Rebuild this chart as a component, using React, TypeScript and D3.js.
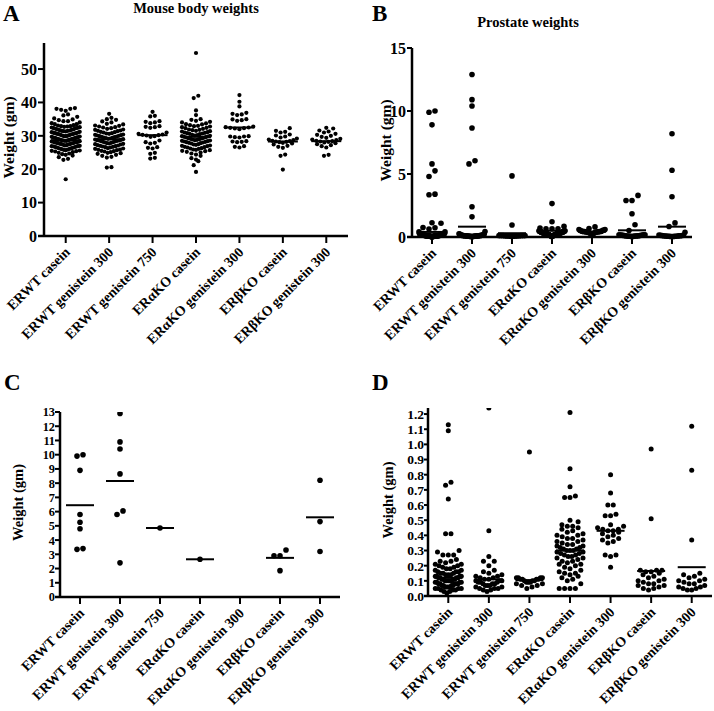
import React from "react";
import * as d3 from "d3";

const groups = [
  "ERWT casein",
  "ERWT genistein 300",
  "ERWT genistein 750",
  "ERαKO casein",
  "ERαKO genistein 300",
  "ERβKO casein",
  "ERβKO genistein 300",
];

// A: mouse body weights (gm)
const bodyWeights = [
  [38.3, 38.1, 38.1, 37.8, 37.5, 36.4, 36.1, 35.7, 35.2, 34.9, 34.7, 34.4, 34.4, 34.0, 33.8, 33.5, 33.5, 33.1, 32.9, 32.8,
   32.5, 32.3, 32.3, 32.0, 31.8, 31.7, 31.5, 31.4, 31.1, 31.0, 30.8, 30.8, 30.5, 30.4, 30.2, 30.0, 29.9, 29.9, 29.6, 29.5,
   29.3, 29.2, 29.0, 29.0, 28.8, 28.7, 28.7, 28.5, 28.4, 28.2, 28.1, 28.0, 27.8, 27.8, 27.6, 27.5, 27.3, 27.2, 27.1, 26.9,
   26.8, 26.6, 26.5, 26.3, 26.1, 26.0, 25.8, 25.7, 25.5, 25.3, 25.1, 24.9, 24.7, 24.5, 24.3, 24.1, 23.6, 23.1, 22.8, 17.0,
   33.2, 32.9, 32.6, 32.4, 32.1, 31.9, 31.6, 31.3, 31.2, 30.9, 30.7, 30.6, 30.3, 30.1, 29.8, 29.7, 29.4, 29.1, 28.9, 28.6,
   28.3, 28.2, 27.9, 27.7, 27.4, 27.0, 26.7, 26.4, 26.2, 25.9, 25.6, 25.4, 28.5, 29.5, 30.5, 27.5, 26.9, 31.5, 32.7, 28.0],
  [36.6, 35.4, 35.0, 34.8, 34.3, 34.0, 33.6, 33.4, 33.1, 32.8, 32.6, 32.3, 32.1, 31.9, 31.6, 31.4, 31.2, 31.0, 30.8, 30.6,
   30.4, 30.2, 30.1, 29.9, 29.7, 29.5, 29.4, 29.2, 29.0, 28.9, 28.7, 28.6, 28.4, 28.2, 28.1, 27.9, 27.7, 27.6, 27.4, 27.2,
   27.0, 26.8, 26.7, 26.5, 26.3, 26.1, 25.9, 25.7, 25.5, 25.3, 25.1, 24.9, 24.6, 24.3, 24.0, 23.7, 23.5, 20.6, 20.5,
   33.0, 32.5, 31.8, 31.5, 31.1, 30.7, 30.3, 30.0, 29.6, 29.3, 29.1, 28.8, 28.5, 28.3, 28.0, 27.8, 27.5, 27.1, 26.9, 26.6,
   26.2, 25.8, 25.4, 24.8, 29.8, 28.6],
  [37.2, 36.0, 35.8, 34.4, 34.2, 34.0, 33.8, 32.9, 32.7, 32.6, 32.4, 31.0, 30.6, 30.4, 30.3, 30.2, 30.1, 29.9, 29.7, 28.6,
   28.1, 27.9, 27.7, 26.6, 26.4, 26.2, 24.9, 24.6, 23.4, 23.2],
  [54.8, 42.0, 41.3, 37.6, 36.2, 35.0, 34.8, 34.5, 34.2, 34.0, 33.7, 33.5, 33.2, 33.0, 32.8, 32.6, 32.3, 32.1, 31.9, 31.7,
   31.5, 31.3, 31.1, 30.9, 30.7, 30.5, 30.3, 30.1, 30.0, 29.8, 29.6, 29.4, 29.3, 29.1, 28.9, 28.7, 28.6, 28.4, 28.2, 28.0,
   27.9, 27.7, 27.5, 27.3, 27.1, 26.9, 26.7, 26.5, 26.3, 26.1, 25.9, 25.7, 25.5, 25.2, 25.0, 24.7, 24.4, 24.0, 23.3, 22.9,
   22.4, 21.2, 19.2, 33.4, 32.9, 32.4, 31.8, 31.4, 31.0, 30.6, 30.2, 29.9, 29.5, 29.2, 29.0, 28.8, 28.5, 28.1, 27.8, 27.4,
   27.0, 26.6, 26.2, 25.8, 25.4, 30.8, 29.7, 28.3],
  [42.2, 40.2, 38.8, 36.9, 36.6, 36.4, 36.2, 35.0, 34.9, 34.7, 34.5, 32.8, 32.6, 32.5, 32.4, 32.3, 32.2, 32.0, 29.9, 29.8,
   29.8, 29.6, 29.5, 28.4, 28.3, 28.2, 28.1, 26.9, 26.7, 26.5],
  [32.3, 31.5, 31.2, 31.0, 30.4, 30.1, 29.8, 29.5, 29.2, 28.9, 28.7, 28.5, 28.4, 28.3, 28.2, 28.1, 27.9, 27.7, 27.4, 27.0,
   26.7, 26.4, 24.4, 24.0, 19.9],
  [32.4, 32.2, 31.6, 31.3, 31.0, 30.6, 30.3, 30.0, 29.7, 29.4, 29.1, 28.9, 28.7, 28.5, 28.4, 28.3, 28.2, 28.0, 27.8, 27.5,
   27.2, 26.9, 26.5, 24.3, 24.0],
];
const bodyMeans = [28.7, 29.0, 30.2, 29.7, 32.5, 28.3, 28.4];

// C: large prostates (gm)
const largeProstate = [
  [9.9, 10.0, 8.9, 5.8, 5.25, 4.8, 3.35, 3.4],
  [12.9, 10.9, 10.4, 8.65, 6.05, 5.8, 2.4],
  [4.85],
  [2.65],
  [],
  [2.9, 2.9, 3.3, 1.85],
  [8.2, 5.3, 3.2],
];
const largeMeans = [6.45, 8.15, 4.85, 2.65, null, 2.75, 5.6];

// D: small prostates (gm)
const smallProstate = [
  [1.13, 1.09, 0.75, 0.73, 0.64, 0.41, 0.41, 0.3, 0.29, 0.27, 0.27, 0.27, 0.24, 0.23, 0.23, 0.22, 0.21, 0.21, 0.2, 0.2,
   0.19, 0.19, 0.18, 0.18, 0.17, 0.17, 0.16, 0.16, 0.16, 0.15, 0.15, 0.15, 0.14, 0.14, 0.14, 0.13, 0.13, 0.13, 0.13, 0.12,
   0.12, 0.12, 0.12, 0.11, 0.11, 0.11, 0.11, 0.1, 0.1, 0.1, 0.1, 0.1, 0.09, 0.09, 0.09, 0.09, 0.08, 0.08, 0.08, 0.08,
   0.08, 0.07, 0.07, 0.07, 0.07, 0.06, 0.06, 0.06, 0.06, 0.05, 0.05, 0.05, 0.05, 0.04, 0.04, 0.04, 0.03, 0.03, 0.02],
  [1.6, 0.43, 0.26, 0.23, 0.23, 0.2, 0.17, 0.16, 0.15, 0.14, 0.13, 0.13, 0.12, 0.12, 0.11, 0.11, 0.1, 0.1, 0.1, 0.09,
   0.09, 0.09, 0.08, 0.08, 0.08, 0.07, 0.07, 0.07, 0.06, 0.06, 0.05, 0.05, 0.05, 0.04, 0.04, 0.03],
  [0.95, 0.12, 0.12, 0.12, 0.12, 0.11, 0.11, 0.11, 0.11, 0.1, 0.1, 0.1, 0.09, 0.09, 0.09, 0.08, 0.08, 0.07, 0.07, 0.06, 0.05],
  [1.21, 0.84, 0.72, 0.66, 0.65, 0.65, 0.5, 0.49, 0.47, 0.46, 0.46, 0.45, 0.44, 0.43, 0.42, 0.41, 0.4, 0.4, 0.39, 0.38,
   0.38, 0.37, 0.36, 0.36, 0.35, 0.34, 0.34, 0.33, 0.33, 0.32, 0.32, 0.31, 0.31, 0.3, 0.3, 0.3, 0.29, 0.29, 0.28, 0.28,
   0.27, 0.27, 0.26, 0.26, 0.25, 0.25, 0.24, 0.23, 0.23, 0.22, 0.21, 0.21, 0.2, 0.19, 0.18, 0.17, 0.16, 0.15, 0.15, 0.14,
   0.13, 0.12, 0.11, 0.1, 0.08, 0.05, 0.05, 0.05, 0.05],
  [0.8, 0.68, 0.6, 0.6, 0.54, 0.53, 0.53, 0.47, 0.46, 0.45, 0.44, 0.44, 0.43, 0.43, 0.42, 0.41, 0.4, 0.39, 0.38, 0.37,
   0.36, 0.35, 0.27, 0.26, 0.27, 0.19],
  [0.97, 0.51, 0.17, 0.17, 0.17, 0.16, 0.16, 0.15, 0.14, 0.13, 0.12, 0.11, 0.1, 0.1, 0.09, 0.08, 0.08, 0.07, 0.07, 0.06,
   0.05, 0.05, 0.04],
  [1.12, 0.83, 0.37, 0.15, 0.14, 0.13, 0.12, 0.11, 0.1, 0.1, 0.09, 0.08, 0.08, 0.07, 0.06, 0.06, 0.05, 0.05, 0.04, 0.04],
];
const smallMeans = [0.12, 0.11, 0.105, 0.3, 0.43, 0.165, 0.19];

// B: all prostates
const prostateWeights = groups.map((_, i) => [...largeProstate[i], ...smallProstate[i]]);
const prostateMeans = [0.4, 0.82, 0.3, 0.5, 0.43, 0.53, 0.82];

const bodyTicks = [0, 10, 20, 30, 40, 50];
const prostateTicks = [0, 5, 10, 15];
const largeTicks = [0, 1, 2, 3, 4, 5, 6, 7, 8, 9, 10, 11, 12, 13];
const smallTicks = [0, 0.1, 0.2, 0.3, 0.4, 0.5, 0.6, 0.7, 0.8, 0.9, 1.0, 1.1, 1.2];

const FONT = "'Liberation Serif', 'Times New Roman', serif";

// row-based column scatter, like Prism: bins by height, spread sideways, capped width
function swarm(values, y, cx, r, maxW) {
  const top = y.domain()[1];
  const pts = values
    .map((v) => ({ v, py: y(Math.min(v, top)) }))
    .sort((a, b) => b.py - a.py);
  const rowH = r * 2.1;
  const rows = [];
  let cur = [];
  let start = null;
  for (const p of pts) {
    if (start === null || start - p.py > rowH) {
      if (cur.length) rows.push(cur);
      cur = [p];
      start = p.py;
    } else cur.push(p);
  }
  if (cur.length) rows.push(cur);

  const out = [];
  for (const row of rows) {
    const n = row.length;
    const step = n > 1 ? Math.min(2 * r + 0.4, maxW / (n - 1)) : 0;
    const slots = d3.range(n).map((j) => (j - (n - 1) / 2) * step);
    slots.sort((a, b) => Math.abs(a) - Math.abs(b) || a - b);
    row.forEach((p, i) => out.push({ x: cx + slots[i], y: p.py }));
  }
  return out;
}

function Panel({
  id, letter, letterX, letterY, title, titleX, titleY,
  left, right, top, bottom, yTop, ticks, fmt,
  data, means, r, spread, meanW,
  tickFont, tickLen, labelGap, yLabelX, yLabelFont,
}) {
  const x = d3.scalePoint().domain(groups).range([left, right]).padding(0.5);
  const y = d3.scaleLinear().domain([0, yTop]).range([bottom, top]);
  const yLabelY = (top + bottom) / 2 - 2;

  return (
    <g>
      <text x={letterX} y={letterY} fontFamily={FONT} fontWeight="bold" fontSize={23}>
        {letter}
      </text>
      {title && (
        <text x={titleX} y={titleY} textAnchor="middle" fontFamily={FONT} fontWeight="bold" fontSize={14.5}>
          {title}
        </text>
      )}
      <clipPath id={`clip-${id}`}>
        <rect x={left} y={top} width={right - left + 20} height={bottom - top + 20} />
      </clipPath>
      <g clipPath={`url(#clip-${id})`}>
        {groups.map((g, i) =>
          swarm(data[i], y, x(g), r, spread).map((p, k) => (
            <circle key={`${i}-${k}`} cx={p.x} cy={p.y} r={r} fill="#000" />
          ))
        )}
      </g>
      {groups.map((g, i) =>
        means[i] == null ? null : (
          <line
            key={`m${i}`}
            x1={x(g) - meanW / 2}
            x2={x(g) + meanW / 2}
            y1={y(means[i])}
            y2={y(means[i])}
            stroke="#000"
            strokeWidth={2}
          />
        )
      )}
      {/* axes */}
      <line x1={left} x2={left} y1={top} y2={bottom + 1} stroke="#000" strokeWidth={2.5} />
      <line x1={left - tickLen} x2={right} y1={bottom} y2={bottom} stroke="#000" strokeWidth={2.5} />
      {ticks.map((t) => (
        <g key={`t${t}`}>
          <line x1={left - tickLen} x2={left} y1={y(t)} y2={y(t)} stroke="#000" strokeWidth={2} />
          <text
            x={left - labelGap}
            y={y(t)}
            dy="0.36em"
            textAnchor="end"
            fontFamily={FONT}
            fontWeight="bold"
            fontSize={tickFont}
          >
            {fmt(t)}
          </text>
        </g>
      ))}
      {groups.map((g) => (
        <g key={`x${g}`}>
          <line x1={x(g)} x2={x(g)} y1={bottom} y2={bottom + 7} stroke="#000" strokeWidth={2} />
          <text
            transform={`translate(${x(g) + 5},${bottom + 17}) rotate(-45)`}
            textAnchor="end"
            fontFamily={FONT}
            fontWeight="bold"
            fontSize={14}
          >
            {g}
          </text>
        </g>
      ))}
      <text
        transform={`translate(${yLabelX},${yLabelY}) rotate(-90)`}
        textAnchor="middle"
        fontFamily={FONT}
        fontWeight="bold"
        fontSize={yLabelFont}
      >
        Weight (gm)
      </text>
    </g>
  );
}

export default function App() {
  return (
    <svg
      width={714}
      height={711}
      viewBox="0 0 714 711"
      style={{ position: "absolute", left: 0, top: 0, background: "#fff" }}
    >
      <Panel
        id="a" letter="A" letterX={3} letterY={21}
        title="Mouse body weights" titleX={196} titleY={13}
        left={44} right={348} top={43} bottom={236} yTop={57.8}
        ticks={bodyTicks} fmt={(t) => String(t)}
        data={bodyWeights} means={bodyMeans} r={2.1} spread={28} meanW={30}
        tickFont={16} tickLen={6} labelGap={7} yLabelX={14} yLabelFont={15.5}
      />
      <Panel
        id="b" letter="B" letterX={372} letterY={21}
        title="Prostate weights" titleX={528} titleY={26.5}
        left={412} right={692} top={48} bottom={237} yTop={15}
        ticks={prostateTicks} fmt={(t) => String(t)}
        data={prostateWeights} means={prostateMeans} r={2.8} spread={26} meanW={28}
        tickFont={16} tickLen={5} labelGap={6} yLabelX={391} yLabelFont={15.5}
      />
      <Panel
        id="c" letter="C" letterX={4} letterY={390}
        left={60} right={340} top={412} bottom={597} yTop={13}
        ticks={largeTicks} fmt={(t) => String(t)}
        data={largeProstate} means={largeMeans} r={2.8} spread={26} meanW={28}
        tickFont={12.3} tickLen={5} labelGap={5} yLabelX={23} yLabelFont={14.5}
      />
      <Panel
        id="d" letter="D" letterX={372} letterY={390}
        left={428} right={712} top={408} bottom={596} yTop={1.24}
        ticks={smallTicks} fmt={(t) => t.toFixed(1)}
        data={smallProstate} means={smallMeans} r={2.5} spread={26} meanW={28}
        tickFont={13.5} tickLen={4} labelGap={4} yLabelX={393} yLabelFont={14.5}
      />
    </svg>
  );
}
